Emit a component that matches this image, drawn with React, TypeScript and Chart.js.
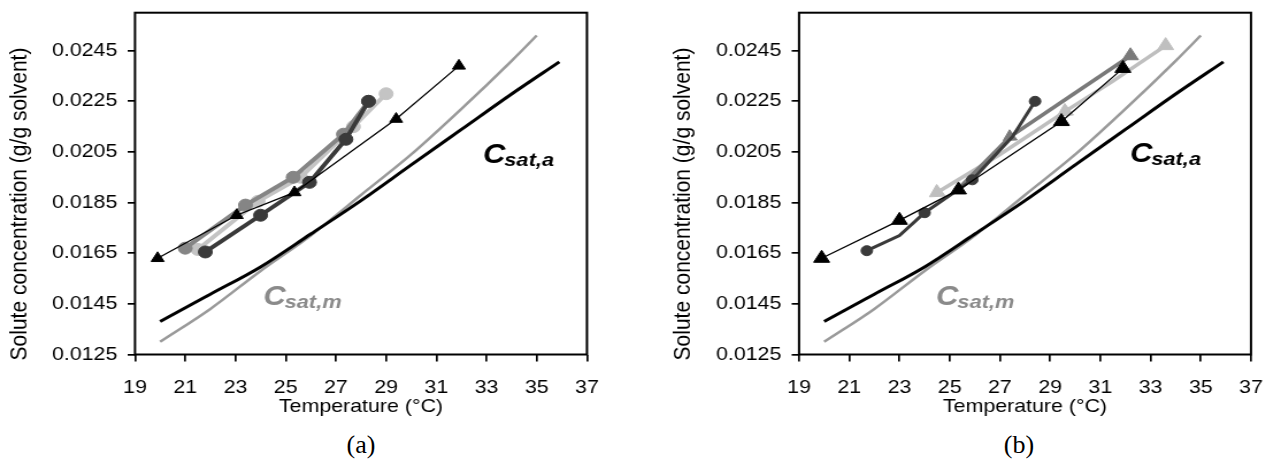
import React, { useEffect, useRef } from 'react';
import { Chart, registerables } from 'chart.js';

Chart.register(...registerables);

// ---------- axes ----------
const X_TICKS = [19, 21, 23, 25, 27, 29, 31, 33, 35, 37];
const Y_TICKS = [0.0125, 0.0145, 0.0165, 0.0185, 0.0205, 0.0225, 0.0245];
const X_MIN = 19;
const X_MAX = 37;
const Y_MIN = 0.0125;
const Y_MAX = 0.026;
const X_TITLE = 'Temperature (°C)';
const Y_TITLE = 'Solute concentration (g/g solvent)';

// ---------- saturation curves (both panels) ----------
const CSAT_A_T = [20, 22, 24, 26, 28, 30, 32, 34, 35.9];
const CSAT_A_C = [0.0138, 0.01488, 0.01596, 0.01726, 0.01858, 0.01999, 0.02139, 0.02279, 0.02406];
const CSAT_M_T = [20, 22, 24, 26, 28, 30, 32, 34, 35];
const CSAT_M_C = [0.013, 0.0143, 0.0158, 0.0172, 0.0188, 0.0204, 0.0222, 0.0241, 0.0251];

// ---------- panel (a) ----------
const A_TRI_T = [19.9, 23.05, 25.35, 29.4, 31.9];
const A_TRI_C = [0.0163, 0.018, 0.0189, 0.0218, 0.0239];
const A_DARK_T = [21.8, 24.0, 25.95, 27.4, 28.3];
const A_DARK_C = [0.01655, 0.018, 0.0193, 0.021, 0.0225];
const A_MED_T = [21.0, 23.4, 25.3, 27.3, 28.3];
const A_MED_C = [0.0167, 0.0184, 0.0195, 0.0212, 0.0225];
const A_LIGHT_T = [21.5, 23.9, 25.6, 27.7, 29.0];
const A_LIGHT_C = [0.01665, 0.01855, 0.0195, 0.0215, 0.0228];

// ---------- panel (b) ----------
const B_TRI_T = [19.9, 23.0, 25.35, 29.45, 31.9];
const B_TRI_C = [0.0163, 0.0178, 0.019, 0.0217, 0.0238];
const B_DARK_T = [21.7, 23.0, 24.0, 25.9, 27.5, 28.4];
const B_DARK_C = [0.0166, 0.0172, 0.0181, 0.0194, 0.0211, 0.0225];
const B_MED_T = [25.3, 27.4, 29.8, 32.2];
const B_MED_C = [0.019, 0.0211, 0.0227, 0.0243];
const B_LIGHT_T = [24.5, 27.0, 29.6, 31.5, 33.6];
const B_LIGHT_C = [0.0189, 0.0204, 0.0221, 0.0233, 0.0247];

// label anchors (data coordinates)
const A_LABELS = [
  { main: 'C', sub: 'sat,a', x: 32.86, y: 0.02007, color: '#000000' },
  { main: 'C', sub: 'sat,m', x: 24.11, y: 0.01446, color: '#8a8a8a' },
];
const B_LABELS = [
  { main: 'C', sub: 'sat,a', x: 32.18, y: 0.02012, color: '#000000' },
  { main: 'C', sub: 'sat,m', x: 24.46, y: 0.01446, color: '#8a8a8a' },
];

const FONT = '"Liberation Sans", Arial, Helvetica, sans-serif';
const STRETCH = 1.15;
const CANVAS_W = 548;
const CANVAS_H = 430;
const AREA_TOP = 12.7;
const AREA_BOTTOM = 354.5;

const pts = (t: number[], c: number[]) => t.map((v, i) => ({ x: v, y: c[i] }));

function line(t: number[], c: number[], color: string, width: number, extra: any = {}) {
  return {
    data: pts(t, c),
    showLine: true,
    borderColor: color,
    backgroundColor: color,
    borderWidth: width,
    pointRadius: 0,
    pointHoverRadius: 0,
    pointBackgroundColor: color,
    pointBorderColor: color,
    pointBorderWidth: 1,
    tension: 0,
    ...extra,
  };
}

function csatSets() {
  return [
    line(CSAT_A_T, CSAT_A_C, '#000000', 3, { cubicInterpolationMode: 'monotone' }),
    line(CSAT_M_T, CSAT_M_C, '#9a9a9a', 2.5, { cubicInterpolationMode: 'monotone' }),
  ];
}

function panelASets() {
  return [
    line(A_TRI_T, A_TRI_C, '#000000', 1.3, { pointRadius: 6.5, pointStyle: 'triangle' }),
    line(A_DARK_T, A_DARK_C, '#3a3a3a', 4, { pointRadius: 6, pointStyle: 'circle' }),
    line(A_MED_T, A_MED_C, '#858585', 4, { pointRadius: 6, pointStyle: 'circle' }),
    line(A_LIGHT_T, A_LIGHT_C, '#c4c4c4', 4, { pointRadius: 6, pointStyle: 'circle' }),
    ...csatSets(),
  ];
}

function panelBSets() {
  return [
    line(B_TRI_T, B_TRI_C, '#000000', 1.3, { pointRadius: 8, pointStyle: 'triangle' }),
    line(B_DARK_T, B_DARK_C, '#3a3a3a', 3, { pointRadius: [5, 0, 5, 5, 0, 5], pointStyle: 'circle' }),
    line(B_MED_T, B_MED_C, '#7a7a7a', 3.5, {
      pointRadius: [0, 7, 0, 8],
      pointStyle: 'triangle',
      pointRotation: [0, 237, 0, 0],
    }),
    line(B_LIGHT_T, B_LIGHT_C, '#bfbfbf', 3.5, {
      pointRadius: [8, 0, 8, 0, 8],
      pointStyle: 'triangle',
      pointRotation: [237, 0, 237, 0, 0],
    }),
    ...csatSets(),
  ];
}

function makePlugin(yTitleX: number, yTitleY: number, labels: any[]) {
  return {
    id: 'frameAndText',
    afterDraw(chart: any) {
      const { ctx, chartArea: a, scales } = chart;
      ctx.save();
      ctx.strokeStyle = '#000';
      ctx.lineWidth = 2;
      ctx.strokeRect(a.left, a.top, a.right - a.left, a.bottom - a.top);
      ctx.restore();

      ctx.save();
      ctx.translate(yTitleX, yTitleY);
      ctx.rotate(-Math.PI / 2);
      ctx.font = `21px ${FONT}`;
      ctx.fillStyle = '#000';
      ctx.textAlign = 'center';
      ctx.textBaseline = 'middle';
      ctx.fillText(Y_TITLE, 0, 0);
      ctx.restore();

      for (const l of labels) {
        const px = scales.x.getPixelForValue(l.x);
        const py = scales.y.getPixelForValue(l.y);
        ctx.save();
        ctx.fillStyle = l.color;
        ctx.textAlign = 'left';
        ctx.textBaseline = 'alphabetic';
        ctx.font = `italic bold 27px ${FONT}`;
        ctx.fillText(l.main, px, py);
        const w = ctx.measureText(l.main).width;
        ctx.font = `italic bold 19px ${FONT}`;
        ctx.fillText(l.sub, px + w - 1, py + 3);
        ctx.restore();
      }
    },
  };
}

function makeChart(canvas: HTMLCanvasElement, datasets: any[], leftPre: number, rightPre: number, plugin: any) {
  return new Chart(canvas, {
    type: 'scatter',
    data: { datasets },
    options: {
      animation: false,
      responsive: false,
      maintainAspectRatio: false,
      devicePixelRatio: 1,
      layout: { padding: { top: AREA_TOP, right: CANVAS_W - rightPre, left: 0, bottom: 0 } },
      plugins: { legend: { display: false }, tooltip: { enabled: false } },
      scales: {
        x: {
          type: 'linear',
          position: 'bottom',
          min: X_MIN,
          max: X_MAX,
          afterBuildTicks: (s: any) => {
            s.ticks = X_TICKS.map((v) => ({ value: v }));
          },
          afterFit: (s: any) => {
            s.height = CANVAS_H - AREA_BOTTOM;
            s.paddingLeft = 0;
            s.paddingRight = 0;
          },
          ticks: {
            callback: (v: any) => String(v),
            font: { size: 18.6, family: FONT },
            color: '#000',
            padding: 14.8,
            autoSkip: false,
            maxRotation: 0,
          },
          grid: { drawOnChartArea: false, drawTicks: true, tickLength: 7, color: '#000', lineWidth: 1.7 },
          border: { display: false },
          title: {
            display: true,
            text: X_TITLE,
            font: { size: 18.6, family: FONT },
            color: '#000',
            padding: { top: 0, bottom: 12.3 },
          },
        },
        y: {
          type: 'linear',
          min: Y_MIN,
          max: Y_MAX,
          afterBuildTicks: (s: any) => {
            s.ticks = Y_TICKS.map((v) => ({ value: v }));
          },
          afterFit: (s: any) => {
            s.width = leftPre;
            s.paddingTop = 0;
            s.paddingBottom = 0;
          },
          ticks: {
            callback: (v: any) => Number(v).toFixed(4),
            font: { size: 18.6, family: FONT },
            color: '#000',
            padding: 9,
          },
          grid: { drawOnChartArea: false, drawTicks: true, tickLength: 6.4, color: '#000', lineWidth: 1.7 },
          border: { display: false },
          title: { display: false },
        },
      },
    },
    plugins: [plugin],
  } as any);
}

export default function App() {
  const refA = useRef<HTMLCanvasElement>(null);
  const refB = useRef<HTMLCanvasElement>(null);

  useEffect(() => {
    const cA = makeChart(refA.current!, panelASets(), 117.4, 510.4, makePlugin(17.4, 204, A_LABELS));
    const cB = makeChart(refB.current!, panelBSets(), 120.9, 513.9, makePlugin(20, 204, B_LABELS));
    return () => {
      cA.destroy();
      cB.destroy();
    };
  }, []);

  const wrap = (left: number): React.CSSProperties => ({
    position: 'absolute',
    left,
    top: 0,
    width: CANVAS_W,
    height: CANVAS_H,
    transform: `scaleX(${STRETCH})`,
    transformOrigin: '0 0',
  });

  const caption = (cx: number): React.CSSProperties => ({
    position: 'absolute',
    left: cx - 50,
    top: 430,
    width: 100,
    textAlign: 'center',
    fontFamily: '"Liberation Serif", "Times New Roman", serif',
    fontSize: 26,
    lineHeight: '30px',
    color: '#000',
  });

  return (
    <div
      style={{
        position: 'fixed',
        left: 0,
        top: 0,
        width: 1263,
        height: 460,
        background: '#fff',
        overflow: 'hidden',
      }}
    >
      <div style={wrap(0)}>
        <canvas ref={refA} width={CANVAS_W} height={CANVAS_H} style={{ display: 'block' }} />
      </div>
      <div style={wrap(660)}>
        <canvas ref={refB} width={CANVAS_W} height={CANVAS_H} style={{ display: 'block' }} />
      </div>
      <div style={caption(361)}>(a)</div>
      <div style={caption(1019)}>(b)</div>
    </div>
  );
}
